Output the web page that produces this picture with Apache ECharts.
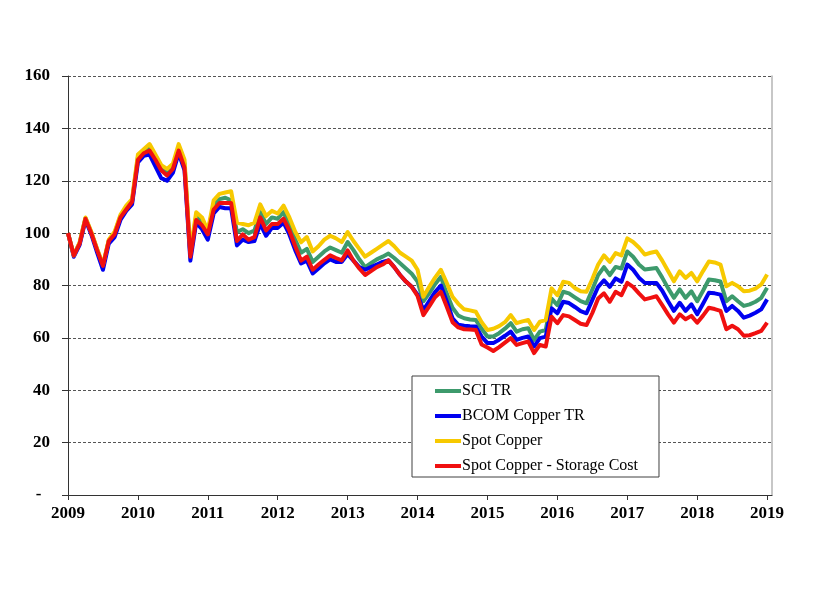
<!DOCTYPE html>
<html>
<head>
<meta charset="utf-8">
<script src="https://cdn.jsdelivr.net/npm/echarts@6/dist/echarts.min.js"></script>
<style>
html,body{margin:0;padding:0;background:#fff;}
#chart{width:817px;height:590px;}
</style>
</head>
<body>
<div id="chart"></div>
<script>
// Monthly observations, Jan 2009 .. Jan 2019 (121 points)
const startYear = 2009;
const yearTicks = [2009, 2010, 2011, 2012, 2013, 2014, 2015, 2016, 2017, 2018, 2019];
const seriesNames = ['SCI TR', 'BCOM Copper TR', 'Spot Copper', 'Spot Copper - Storage Cost'];

const sciTR = [
  100, 91.5, 96.3, 105.8, 100.2, 93.8, 87.5, 97.2, 100, 106.5, 109.8, 112.5,
  129, 131, 132.5, 129, 125, 123, 125.5, 132.5, 126.5, 92, 106.5, 104.5,
  100.5, 110.5, 113, 113.5, 112.5, 100.4, 101.5, 100, 101, 108, 103.5, 106,
  105.5, 108, 103, 97.5, 92.5, 94, 89, 91, 93, 94.5, 93.5, 92.5,
  96.6, 93.5, 90, 87, 88.5, 90, 91, 92.2, 90.5, 88.5, 86.5, 84.5,
  81.5, 74, 77, 80.5, 83.3, 77, 71.5, 68.5, 67.5, 67, 66.8, 63.5,
  60.5, 60.5, 61.8, 63.5, 65.6, 62.4, 63.3, 63.7, 59.2, 62.4, 63, 75,
  72.5, 77.6, 77, 75.5, 74, 73.2, 78.5, 84, 87, 84, 87.1, 86.5,
  93, 91, 88, 86.1, 86.4, 86.7, 83, 79, 75.3, 78.5, 75.3, 77.8,
  74, 78, 82.3, 82, 81.5, 74, 75.9, 74, 72.2, 72.8, 73.8, 75.3,
  79.1
];
const bcomCopperTR = [
  100, 91, 95.5, 105, 99.5, 92.5, 86, 96, 98.5, 105, 108.5, 111,
  127, 129.5, 130, 125.5, 121, 120, 123, 130.5, 124, 89.5, 104, 101.5,
  97.5, 107.5, 110, 109.5, 109.5, 95.3, 97.5, 96.6, 97, 103.5, 99, 102,
  102, 104, 99.5, 93.5, 88.4, 89.5, 84.6, 86.5, 88.5, 90, 89, 89,
  92, 89.5, 87, 86, 87, 88, 89, 89.6, 87, 84, 81.5, 79.5,
  76.5, 70.6, 74, 77.5, 80, 74, 67.5, 65, 64.6, 64.4, 64.3, 60.5,
  58, 58, 59.3, 60.8, 62.4, 59.2, 60, 60.5, 56.7, 59.9, 60.5, 71.3,
  69.4, 73.8, 73.3, 71.8, 70.2, 69.4, 74.5, 79.5, 82, 79.5, 82.7, 81.4,
  88, 86, 83, 81, 81, 81, 78, 74, 70.3, 73.4, 70.3, 72.8,
  69, 73, 77.2, 77, 76.5, 70.3, 72.2, 70.3, 67.7, 68.5, 69.6, 70.9,
  74.7
];
const spotCopper = [
  100, 91.5, 96.5, 106, 100.5, 94, 88, 97.5, 100.5, 107, 110.5, 113,
  130, 132, 134, 130, 126, 124.5, 126.5, 134, 128, 93, 108, 106,
  101, 112.5, 115, 115.5, 116, 104, 103.5, 103, 104, 111, 106.5, 108.5,
  107.5, 110.5, 106, 100.5, 96.5, 98.5, 93, 95, 97.5, 99, 98, 96.6,
  100.4, 97, 94, 91, 92.5, 94, 95.5, 97, 95, 92.5, 91, 89.5,
  86, 75.7, 79.5, 83, 86, 81, 75.7, 73, 70.9, 70.5, 70, 66,
  63, 63.5, 64.5, 66, 68.7, 65.6, 66.3, 66.8, 63, 66.2, 66.8, 78.9,
  76.3, 81.4, 81, 79, 77.8, 77.6, 82.5, 88, 91.5, 89, 92.4, 91.5,
  98, 96.6, 94.5, 91.8, 92.5, 93, 89.5, 85.5, 81.6, 85.4, 82.9, 84.8,
  81.6, 85.5, 89.2, 88.8, 88, 79.7, 81, 79.7, 77.8, 78, 78.8, 80.4,
  84.2
];
const spotCopperStorage = [
  100, 91.5, 96, 105.5, 100, 93.5, 87.5, 97, 99.5, 106, 109, 112,
  128, 130.5, 131.5, 128, 124, 122, 124.5, 131.5, 125, 91, 105, 103,
  99.5, 109, 111.5, 111.5, 111.5, 97, 99.5, 97.5, 98.5, 106, 101, 103.5,
  103.5, 105.5, 101, 95, 89.5, 91, 86, 88, 89.8, 91.5, 90.5, 89.6,
  93.4, 89.5, 86.5, 84, 85.5, 87, 88, 89.6, 87, 84, 81.5, 79.5,
  76, 68.7, 72, 75.5, 77.6, 72, 66, 64, 63.3, 63.2, 63, 57.5,
  56.3, 55, 56.5, 58.2, 59.9, 57.3, 58, 58.6, 54.2, 57.3, 56.7, 68.1,
  65.6, 68.7, 68.2, 66.8, 65.4, 64.9, 69.5, 75, 77, 73.8, 77.6, 76.3,
  81, 79.5, 77, 74.7, 75.3, 75.9, 72.5, 69, 65.8, 69, 67.1, 68.4,
  65.8, 68.5, 71.5, 71, 70.3, 63.3, 64.6, 63.3, 60.8, 61, 61.8, 62.7,
  65.8
];

const seriesValues = [sciTR, bcomCopperTR, spotCopper, spotCopperStorage];
const colors = ['#3d9a6c', '#0000f0', '#f7c900', '#f01010'];

const toPoints = arr => arr.map((v, i) => [startYear + i / 12, v]);

const chart = echarts.init(document.getElementById('chart'), null, { renderer: 'canvas' });
const labelFont = { fontFamily: 'Liberation Serif, Times New Roman, serif', fontWeight: 'bold', fontSize: 17, color: '#000' };

chart.setOption({
  animation: false,
  backgroundColor: '#ffffff',
  grid: { left: 68, right: 45, top: 76, bottom: 95, containLabel: false },
  xAxis: {
    type: 'value',
    min: 2009,
    max: 2019.07,
    interval: 1,
    axisLine: { show: true, onZero: false, lineStyle: { color: '#333', width: 1 } },
    axisTick: { show: true, length: 5, customValues: yearTicks, lineStyle: { color: '#333' } },
    axisLabel: Object.assign({ customValues: yearTicks, margin: 10, formatter: v => String(Math.round(v)) }, labelFont),
    splitLine: { show: false }
  },
  yAxis: [
    {
      type: 'value',
      min: 0,
      max: 160,
      interval: 20,
      axisLine: { show: true, lineStyle: { color: '#333', width: 1 } },
      axisTick: { show: true, length: 6, lineStyle: { color: '#333' } },
      axisLabel: Object.assign({ margin: 18, formatter: v => (v === 0 ? '-  ' : String(v)) }, labelFont),
      splitLine: { show: true, lineStyle: { color: '#555', width: 1, type: [3, 2] } }
    },
    {
      type: 'value',
      min: 0,
      max: 160,
      position: 'right',
      axisLine: { show: true, lineStyle: { color: '#b5b5b5', width: 1.5 } },
      axisTick: { show: false },
      axisLabel: { show: false },
      splitLine: { show: false }
    }
  ],
  legend: {
    orient: 'vertical',
    left: 412,
    top: 376,
    padding: [7, 21, 3, 23],
    itemWidth: 26,
    itemHeight: 4,
    itemGap: 9,
    icon: 'rect',
    borderColor: '#404040',
    borderWidth: 1,
    backgroundColor: '#ffffff',
    data: seriesNames,
    textStyle: { fontFamily: 'Liberation Serif, Times New Roman, serif', fontSize: 16, color: '#000', lineHeight: 16, padding: [0, 0, 0, -4] }
  },
  series: seriesNames.map((name, idx) => ({
    name: name,
    type: 'line',
    data: toPoints(seriesValues[idx]),
    showSymbol: false,
    symbol: 'none',
    color: colors[idx],
    lineStyle: { width: 4, color: colors[idx], join: 'round' },
    z: 2 + idx
  }))
});
</script>
</body>
</html>
